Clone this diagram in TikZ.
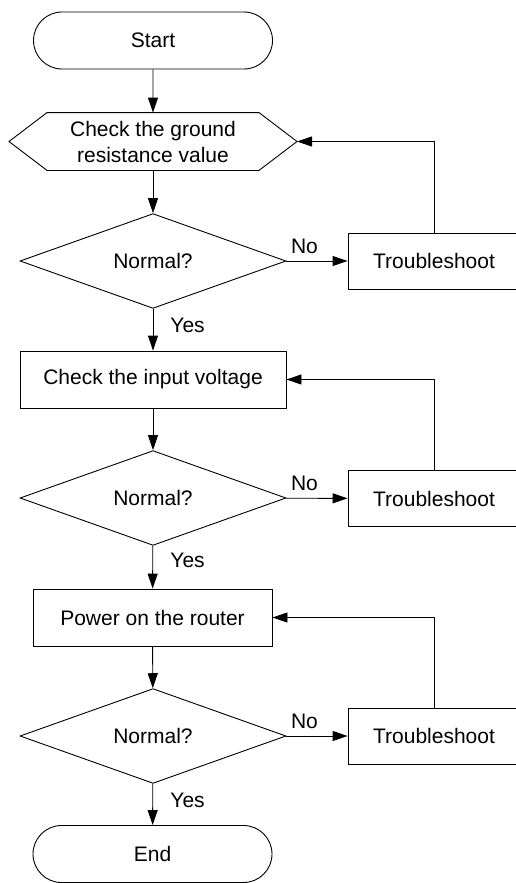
\documentclass[tikz,border=0pt]{standalone}
\usepackage{fontspec}
\setmainfont{Liberation Sans}
\usetikzlibrary{shapes.geometric,shapes.misc,arrows.meta}
\begin{document}
\begin{tikzpicture}[x=1pt,y=-1pt,
  line width=0.9pt,
  every node/.style={font=\fontsize{21}{26}\selectfont},
  term/.style={draw, rounded rectangle, minimum width=239pt, minimum height=57pt, inner sep=0pt},
  proc/.style={draw, rectangle, minimum height=57pt, inner sep=0pt},
  trbl/.style={draw, rectangle, minimum width=172pt, minimum height=56pt, inner sep=0pt},
  dec/.style={draw, diamond, minimum width=266pt, minimum height=90pt, inner sep=0pt},
  arr/.style={-{Triangle[length=15pt,width=10pt]}},
  lbl/.style={inner sep=0pt}
]
\useasboundingbox (0,0) rectangle (515,883);

\node[term] (start) at (153,40.5) {Start};

\node[minimum width=211pt, minimum height=57pt, inner sep=0pt, align=center] (hex) at (153,141.5) {Check the ground\\resistance value};
\coordinate (hexL) at (9,141.5);
\coordinate (hexR) at (297,141.5);
\draw (hex.north west) -- (hex.north east) -- (hexR) -- (hex.south east) -- (hex.south west) -- (hexL) -- cycle;

\node[dec] (d1) at (153,261) {Normal?};
\node[trbl] (t1) at (434,261) {Troubleshoot};
\node[proc, minimum width=266pt] (b2) at (153,379.5) {Check the input voltage};
\node[dec] (d2) at (153,498) {Normal?};
\node[trbl] (t2) at (434,498.5) {Troubleshoot};
\node[proc, minimum width=239pt] (b3) at (152.5,617.5) {Power on the router};
\node[dec] (d3) at (153,736) {Normal?};
\node[trbl] (t3) at (434,736) {Troubleshoot};
\node[term] (end) at (152.5,854) {End};

\node[lbl] (no1) at ([xshift=18pt,yshift=15pt]d1.east) {No};
\node[lbl] (no2) at ([xshift=18pt,yshift=15pt]d2.east) {No};
\node[lbl] (no3) at ([xshift=18pt,yshift=15pt]d3.east) {No};
\node[lbl, anchor=west] (y1) at ([xshift=17pt,yshift=-17pt]d1.south) {Yes};
\node[lbl, anchor=west] (y2) at ([xshift=17pt,yshift=-15pt]d2.south) {Yes};
\node[lbl, anchor=west] (y3) at ([xshift=17pt,yshift=-17pt]d3.south) {Yes};

\draw[arr] (start) -- (hex);
\draw[arr] (hex) -- (d1);
\draw[arr] (d1) -- (t1);
\draw[arr] (t1.north) |- (hexR);
\draw[arr] (d1) -- (b2);
\draw[arr] (b2) -- (d2);
\draw[arr] (d2) -- (t2);
\draw[arr] (t2.north) |- (b2.east);
\draw[arr] (d2) -- (b3);
\draw[arr] (b3) -- (d3);
\draw[arr] (d3) -- (t3);
\draw[arr] (t3.north) |- (b3.east);
\draw[arr] (d3) -- (end);
\end{tikzpicture}
\end{document}
